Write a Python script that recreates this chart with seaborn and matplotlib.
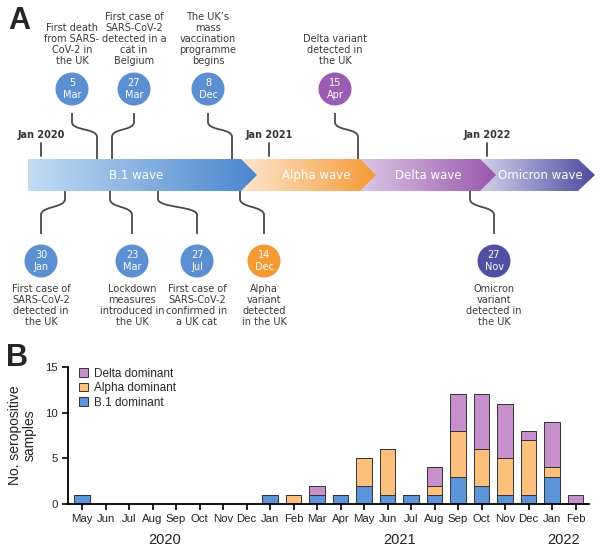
import numpy as np
import matplotlib
matplotlib.use('Agg')
import matplotlib.pyplot as plt
import seaborn as sns
from matplotlib.patches import Polygon, Circle, PathPatch, Patch
from matplotlib.path import Path
from matplotlib.colors import LinearSegmentedColormap
import matplotlib.transforms as mtransforms

# ---------------- panel B data ----------------
month_labels = ['May', 'Jun', 'Jul', 'Aug', 'Sep', 'Oct', 'Nov', 'Dec',
                'Jan', 'Feb', 'Mar', 'Apr', 'May', 'Jun', 'Jul', 'Aug', 'Sep', 'Oct', 'Nov', 'Dec',
                'Jan', 'Feb']
month_year = [2020] * 8 + [2021] * 12 + [2022] * 2
b1_counts = [1, 0, 0, 0, 0, 0, 0, 0,
             1, 0, 1, 1, 2, 1, 1, 1, 3, 2, 1, 1,
             3, 0]
alpha_counts = [0, 0, 0, 0, 0, 0, 0, 0,
                0, 1, 0, 0, 3, 5, 0, 1, 5, 4, 4, 6,
                1, 0]
delta_counts = [0, 0, 0, 0, 0, 0, 0, 0,
                0, 0, 1, 0, 0, 0, 0, 2, 4, 6, 6, 1,
                5, 1]
series_labels = ['Delta dominant', 'Alpha dominant', 'B.1 dominant']
col_b1 = '#5b94d8'
col_alpha = '#fdc07c'
col_delta = '#c790cc'

# ---------------- panel A data ----------------
wave_names = ['B.1 wave', 'Alpha wave', 'Delta wave', 'Omicron wave']
wave_start = [28, 241, 360, 480]
wave_body_end = [241, 360, 480, 578]
wave_tip = [257, 376, 496, 595]
wave_text_x = [136, 316, 428, 540]
wave_light = ['#c2dcf2', '#fde6cd', '#dcc6e4', '#d2d1ec']
wave_dark = ['#4a86cf', '#f59a35', '#9858ad', '#4d4a9f']

year_marks = ['Jan 2020', 'Jan 2021', 'Jan 2022']
year_mark_x = [41, 269, 487]

top_dates = ['5\nMar', '27\nMar', '8\nDec', '15\nApr']
top_texts = ['First death\nfrom SARS-\nCoV-2 in\nthe UK',
             'First case of\nSARS-CoV-2\ndetected in a\ncat in\nBelgium',
             'The UK\u2019s\nmass\nvaccination\nprogramme\nbegins',
             'Delta variant\ndetected in\nthe UK']
top_circle_x = [72, 134, 208, 335]
top_anchor_x = [97, 112, 232, 358]
top_colors = ['#5b8fd1', '#5b8fd1', '#5b8fd1', '#9b5db3']

bot_dates = ['30\nJan', '23\nMar', '27\nJul', '14\nDec', '27\nNov']
bot_texts = ['First case of\nSARS-CoV-2\ndetected in\nthe UK',
             'Lockdown\nmeasures\nintroduced in\nthe UK',
             'First case of\nSARS-CoV-2\nconfirmed in\na UK cat',
             'Alpha\nvariant\ndetected\nin the UK',
             'Omicron\nvariant\ndetected in\nthe UK']
bot_circle_x = [41, 132, 197, 264, 494]
bot_anchor_x = [65, 110, 158, 240, 470]
bot_colors = ['#5b8fd1', '#5b8fd1', '#5b8fd1', '#f39a32', '#4f4fa3']

sns.set_style('ticks')
plt.rcParams['font.family'] = ['Liberation Sans', 'DejaVu Sans']

fig = plt.figure(figsize=(6, 5.51), dpi=100)

# ---------- panel A (drawn in pixel space) ----------
axa = fig.add_axes([0, 0, 1, 1])
axa.set_axis_off()
txt_col = '#3a3a3a'
line_col = '#4a4a4a'
fa = 'DejaVu Sans'

band_top, band_bot = 159, 191
for i in range(len(wave_names)):
    ymid = (band_top + band_bot) / 2
    verts = [(wave_start[i], band_top), (wave_body_end[i], band_top), (wave_tip[i], ymid),
             (wave_body_end[i], band_bot), (wave_start[i], band_bot)]
    poly = Polygon(verts, closed=True, facecolor='none', edgecolor='none')
    axa.add_patch(poly)
    cmap = LinearSegmentedColormap.from_list('w%d' % i, [wave_light[i], wave_dark[i]])
    grad = np.linspace(0, 1, 256).reshape(1, -1)
    im = axa.imshow(grad, cmap=cmap, extent=(wave_start[i], wave_tip[i], band_bot, band_top),
                    aspect='auto', zorder=10 - i, interpolation='bilinear')
    im.set_clip_path(poly)
    axa.text(wave_text_x[i], ymid + 0.5, wave_names[i], color='white', fontsize=8.5,
             ha='center', va='center', family=fa, zorder=20)

for lab, x in zip(year_marks, year_mark_x):
    axa.text(x, 135, lab, fontsize=7, fontweight='bold', ha='center', va='center',
             color='#333333', family=fa)
    axa.plot([x, x], [143, 156], color='#444444', lw=1.3)

r = 16.5
for d, t, cx, axx, c in zip(top_dates, top_texts, top_circle_x, top_anchor_x, top_colors):
    axa.add_patch(Circle((cx, 89), r, facecolor=c, edgecolor='none', zorder=5))
    axa.text(cx, 89, d, color='white', fontsize=7, ha='center', va='center',
             linespacing=1.15, family=fa, zorder=6)
    axa.text(cx, 66, t, color=txt_col, fontsize=7, ha='center', va='bottom',
             linespacing=1.12, family=fa)
    p = Path([(cx, 113), (cx, 122), (cx, 131), (axx, 128), (axx, 137), (axx, 159)],
             [Path.MOVETO, Path.LINETO, Path.CURVE4, Path.CURVE4, Path.CURVE4, Path.LINETO])
    axa.add_patch(PathPatch(p, facecolor='none', edgecolor=line_col, lw=1.3, zorder=3))

for d, t, cx, axx, c in zip(bot_dates, bot_texts, bot_circle_x, bot_anchor_x, bot_colors):
    cy = 261
    axa.add_patch(Circle((cx, cy), r, facecolor=c, edgecolor='none', zorder=5))
    axa.text(cx, cy, d, color='white', fontsize=7, ha='center', va='center',
             linespacing=1.15, family=fa, zorder=6)
    axa.text(cx, 284, t, color=txt_col, fontsize=7, ha='center', va='top',
             linespacing=1.12, family=fa)
    p = Path([(axx, 191), (axx, 199), (axx, 208), (cx, 206), (cx, 215), (cx, 234)],
             [Path.MOVETO, Path.LINETO, Path.CURVE4, Path.CURVE4, Path.CURVE4, Path.LINETO])
    axa.add_patch(PathPatch(p, facecolor='none', edgecolor=line_col, lw=1.3, zorder=3))

axa.text(8, 6, 'A', fontsize=22, fontweight='bold', va='top', ha='left', family='Liberation Sans')
axa.text(6, 343, 'B', fontsize=22, fontweight='bold', va='top', ha='left', family='Liberation Sans')
axa.set_xlim(0, 600)
axa.set_ylim(551, 0)

# ---------- panel B ----------
axb = fig.add_axes([68 / 600, (551 - 504) / 551, (589 - 68) / 600, (504 - 367) / 551])
axb.patch.set_alpha(0)
pos = list(range(len(month_labels)))
b1 = np.array(b1_counts)
al = np.array(alpha_counts)
de = np.array(delta_counts)
bar_kw = dict(width=0.65, saturation=1, edgecolor='#333333', linewidth=0.7, ax=axb)
sns.barplot(x=pos, y=b1, color=col_b1, **bar_kw)
sns.barplot(x=pos, y=al, bottom=b1, color=col_alpha, **bar_kw)
sns.barplot(x=pos, y=de, bottom=b1 + al, color=col_delta, **bar_kw)

axb.set_xlim(-0.6, 21.57)
axb.set_ylim(0, 15)
axb.set_yticks([0, 5, 10, 15])
axb.set_xticks(pos)
axb.set_xticklabels(month_labels)
axb.tick_params(axis='both', labelsize=8.2, length=4, width=1.2, color='black', labelcolor='#222222')
for s in ['top', 'right']:
    axb.spines[s].set_visible(False)
for s in ['left', 'bottom']:
    axb.spines[s].set_linewidth(1.3)
    axb.spines[s].set_color('black')
axb.set_ylabel('No. seropositive\nsamples', fontsize=10, labelpad=6, linespacing=1.0, color='#222222')
axb.set_xlabel('')

trans = mtransforms.blended_transform_factory(axb.transData, axb.transAxes)
for yr in sorted(set(month_year)):
    xs = [p_ for p_, y_ in zip(pos, month_year) if y_ == yr]
    axb.text(np.mean(xs), -0.265, str(yr), transform=trans, ha='center', va='center',
             fontsize=10.5, color='#222222')

handles = [Patch(facecolor=col_delta, edgecolor='#333333', linewidth=0.7),
           Patch(facecolor=col_alpha, edgecolor='#333333', linewidth=0.7),
           Patch(facecolor=col_b1, edgecolor='#333333', linewidth=0.7)]
axb.legend(handles, series_labels, loc='upper left', bbox_to_anchor=(0.012, 1.03),
           frameon=False, fontsize=8.5, handlelength=0.75, handleheight=0.75,
           handletextpad=0.5, labelspacing=0.22, borderaxespad=0)

fig.savefig('out.png', dpi=100)
